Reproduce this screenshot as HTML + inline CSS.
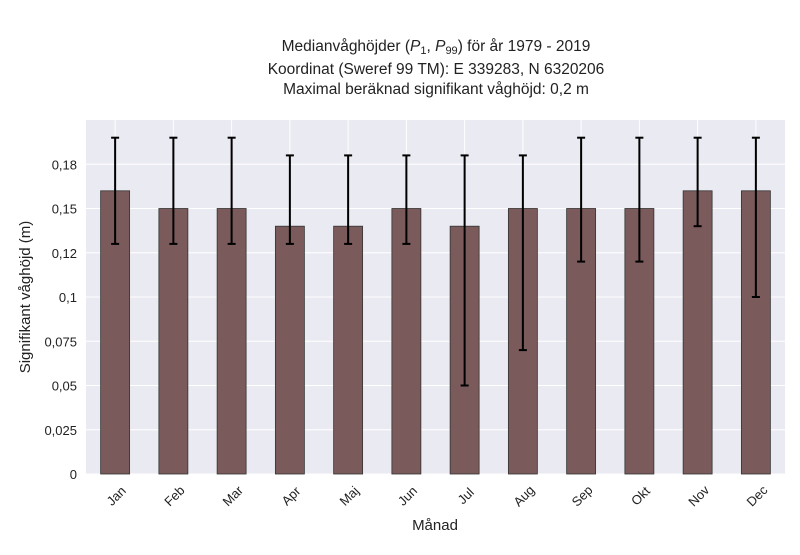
<!DOCTYPE html>
<html><head><meta charset="utf-8"><style>
body{margin:0;background:#fff;font-family:"Liberation Sans",sans-serif;}
svg text{font-family:"Liberation Sans",sans-serif;fill:#222;}
</style></head><body>
<svg width="800" height="550">
<text x="436" y="51" text-anchor="middle" font-size="15.5">Medianvåghöjder (<tspan font-style="italic">P</tspan><tspan font-size="11" dy="3">1</tspan><tspan dy="-3">, </tspan><tspan font-style="italic">P</tspan><tspan font-size="11" dy="3">99</tspan><tspan dy="-3">) för år 1979 - 2019</tspan></text>
<text x="436" y="74" text-anchor="middle" font-size="15.5">Koordinat (Sweref 99 TM): E 339283, N 6320206</text>
<text x="436" y="94" text-anchor="middle" font-size="15.5">Maximal beräknad signifikant våghöjd: 0,2 m</text>
<rect x="86" y="120" width="699" height="354" fill="#eaeaf2"/>
<g id="grid"></g><g id="bars"></g><g id="axes"></g>
<text transform="translate(30,297) rotate(-90)" text-anchor="middle" font-size="15">Signifikant våghöjd (m)</text>
<text x="435" y="530" text-anchor="middle" font-size="15">Månad</text>
</svg>
<script>
const categories=["Jan","Feb","Mar","Apr","Maj","Jun","Jul","Aug","Sep","Okt","Nov","Dec"];
const medians=[0.16,0.15,0.15,0.14,0.14,0.15,0.14,0.15,0.15,0.15,0.16,0.16];
const p1=[0.13,0.13,0.13,0.13,0.13,0.13,0.05,0.07,0.12,0.12,0.14,0.10];
const p99=[0.19,0.19,0.19,0.18,0.18,0.18,0.18,0.18,0.19,0.19,0.19,0.19];
const yTicks=[0,0.025,0.05,0.075,0.1,0.125,0.15,0.175];
const yTickLabels=["0","0,025","0,05","0,075","0,1","0,12","0,15","0,18"];
const NS="http://www.w3.org/2000/svg";
const X0=86,W=699,Y0=474,PPU=1770;
const y=v=>Y0-v*PPU;
const step=W/categories.length;
const xc=i=>X0+step*(i+0.5);
function mk(t,a,p){const e=document.createElementNS(NS,t);for(const k in a)e.setAttribute(k,a[k]);p.appendChild(e);return e;}
const grid=document.getElementById('grid'),bars=document.getElementById('bars'),axes=document.getElementById('axes');
yTicks.forEach((v,i)=>{
 const l=mk('line',{x1:X0,x2:X0+W,y1:y(v),y2:y(v),stroke:'#fff','stroke-width':1},grid);
 
 
 const t=mk('text',{x:X0-9,y:y(v)+5,'text-anchor':'end','font-size':13},axes);
 t.textContent=yTickLabels[i];
 
 
});
categories.forEach((c,i)=>{
 const gl=mk('line',{x1:xc(i),x2:xc(i),y1:120,y2:Y0,stroke:'#fff','stroke-width':1},grid);
 
 
 const b=mk('rect',{x:xc(i)-14.5,y:y(medians[i]),width:29,height:medians[i]*PPU,fill:'#7a5a5a',stroke:'#333','stroke-width':0.8},bars);
 
 
 const e=mk('line',{x1:xc(i),x2:xc(i),y1:y(p99[i]),y2:y(p1[i]),stroke:'#000','stroke-width':2},bars);
 
 
 [p99[i],p1[i]].forEach(v=>{
  const cap=mk('line',{x1:xc(i)-4,x2:xc(i)+4,y1:y(v),y2:y(v),stroke:'#000','stroke-width':2},bars);
  
  
 });
 const t=mk('text',{x:xc(i),y:490,'text-anchor':'middle','font-size':13,transform:`rotate(-45 ${xc(i)} 492)`},axes);
 t.setAttribute('x',xc(i)-2);t.setAttribute('y',500);
 t.textContent=c;
 
 
});
</script>
</body></html>
